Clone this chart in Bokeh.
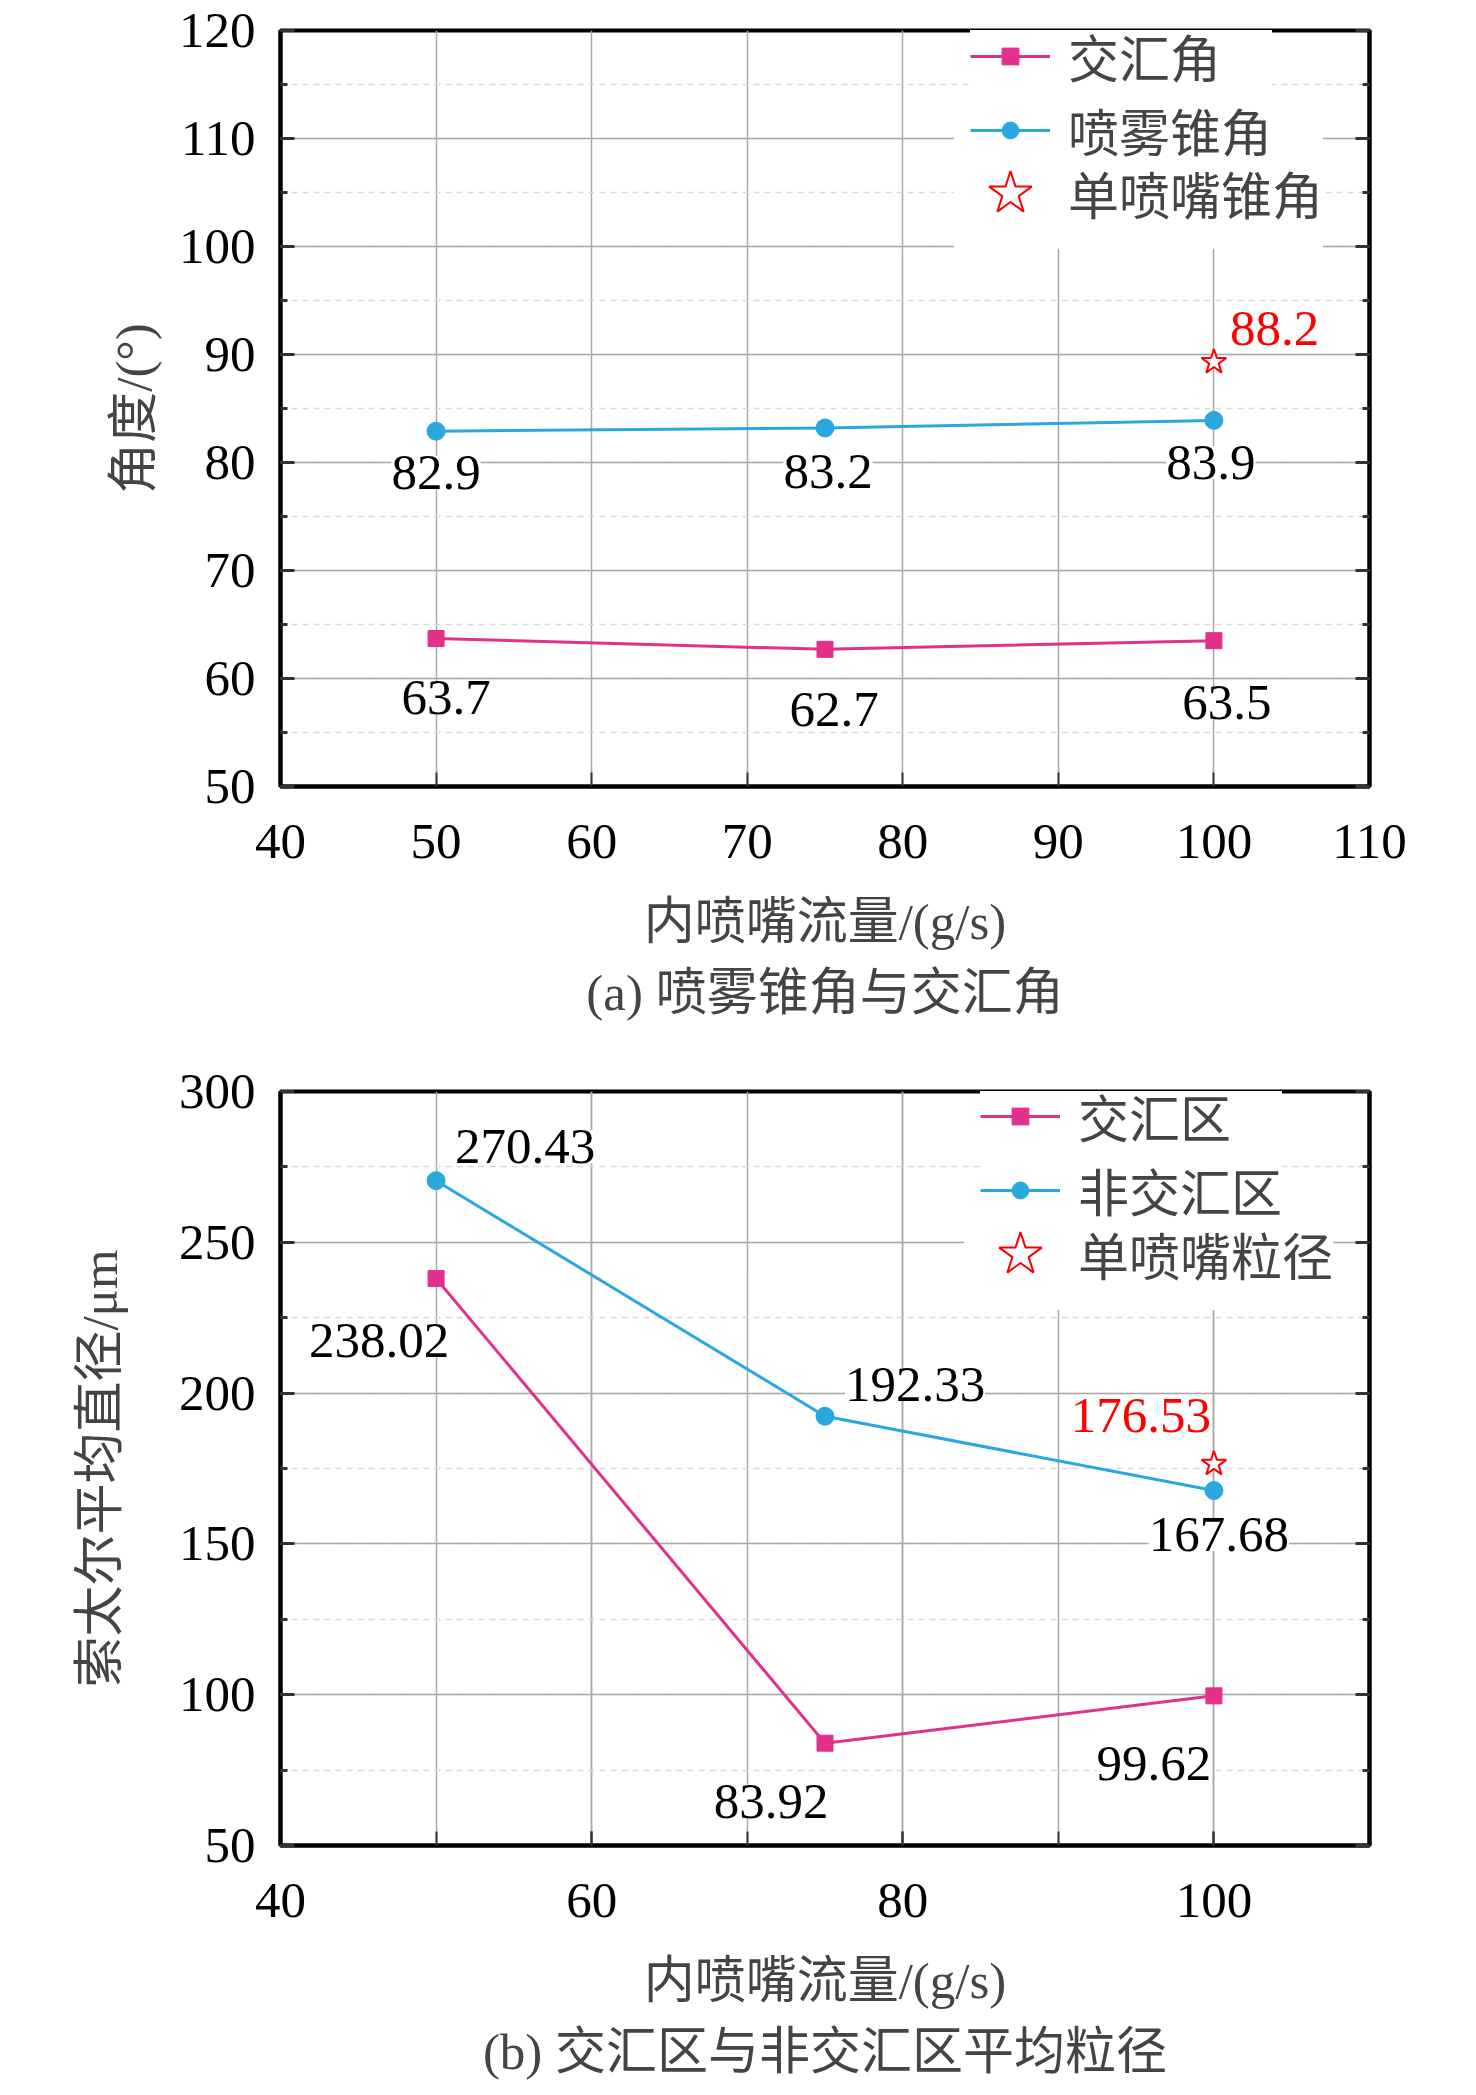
from bokeh.plotting import figure
from bokeh.layouts import column
from bokeh.models import (Range1d, SingleIntervalTicker, LinearAxis, Label,
                          Legend, LegendItem, Title, CustomJSTickFormatter)
from bokeh.embed import file_html
from bokeh.resources import INLINE

# ---- data ----
flow = [50, 75, 100]                      # 内喷嘴流量 g/s

merge_angle = [63.7, 62.7, 63.5]          # 交汇角
spray_angle = [82.9, 83.2, 83.9]          # 喷雾锥角
single_angle_x = [100]
single_angle_y = [89.3]                   # star as drawn
single_angle_text = [88.2]                # value written beside it

merge_d = [238.02, 83.92, 99.62]          # 交汇区
nonmerge_d = [270.43, 192.33, 167.68]     # 非交汇区
single_d_x = [100]
single_d = [176.53]                       # 单喷嘴粒径

PINK = "#e3308a"
BLUE = "#29a8e0"
RED = "#ff0000"
FONT = "Liberation Serif, Noto Sans CJK SC"
FS = "51px"


def make_fig(height, top, bottom, ymax, ystep, xstep, xminor_grid):
    p = figure(width=1448, height=height,
               x_range=Range1d(40, 110), y_range=Range1d(50, ymax),
               output_backend="svg", toolbar_location=None,
               min_border_left=280, min_border_right=79,
               min_border_top=top, min_border_bottom=bottom)
    p.outline_line_color = "black"
    p.outline_line_width = 4
    p.background_fill_color = "white"

    xt = SingleIntervalTicker(interval=xstep, num_minor_ticks=2)
    yt = SingleIntervalTicker(interval=ystep, num_minor_ticks=2)
    p.xaxis.ticker = xt
    p.yaxis.ticker = yt

    # right-hand axis: inward ticks only, no numbers
    right = LinearAxis(ticker=yt, formatter=CustomJSTickFormatter(code="return ''"))
    p.add_layout(right, "right")

    for ax in (p.xaxis[0], p.yaxis[0], right):
        ax.axis_line_color = "black"
        ax.axis_line_width = 4
        ax.major_tick_in = 14
        ax.major_tick_out = 0
        ax.minor_tick_in = 7
        ax.minor_tick_out = 0
        ax.major_tick_line_color = "#333333"
        ax.minor_tick_line_color = "#333333"
        ax.major_tick_line_width = 3
        ax.minor_tick_line_width = 3
        ax.major_label_text_font = FONT
        ax.major_label_text_font_size = FS
        ax.major_label_text_color = "black"
        ax.axis_label_text_font = FONT
        ax.axis_label_text_font_size = FS
        ax.axis_label_text_font_style = "normal"
    right.major_label_standoff = 0

    p.xaxis.major_label_standoff = 38
    p.yaxis[0].major_label_standoff = 25
    p.xaxis.axis_label_standoff = 33
    p.xaxis.major_tick_line_width = 2
    p.xaxis.minor_tick_line_width = 2
    p.xaxis.minor_tick_in = 14
    if not xminor_grid:
        p.xaxis.minor_tick_line_color = None

    p.xgrid.grid_line_color = "#a8a8a8"
    p.xgrid.grid_line_width = 1.5
    if xminor_grid:
        p.xgrid.minor_grid_line_color = "#a8a8a8"
        p.xgrid.minor_grid_line_width = 1.5
    p.ygrid.grid_line_color = "#a8a8a8"
    p.ygrid.grid_line_width = 1.5
    p.ygrid.minor_grid_line_color = "#d9d9d9"
    p.ygrid.minor_grid_line_width = 1.5
    p.ygrid.minor_grid_line_dash = "6 5"
    return p


def add_values(p, xs, ys, texts, offsets, color="black"):
    for x, y, t, (dx, dy) in zip(xs, ys, texts, offsets):
        p.add_layout(Label(x=x, y=y, text=t, x_offset=dx, y_offset=dy,
                           text_align="center", text_baseline="middle",
                           text_font=FONT, text_font_size=FS, text_color=color,
                           background_fill_color="white"))


def add_legend(p, items, star_item, x, y1, y2):
    common = dict(label_height=60, margin=0, padding=0, border_line_color=None,
                  background_fill_color="white", background_fill_alpha=1,
                  label_text_font=FONT, label_text_font_size=FS)
    # star row: wider/taller glyph box so the legend star comes out larger
    leg2 = Legend(items=[star_item], location=(x - 16, y2), glyph_width=112,
                  glyph_height=112, label_standoff=2, spacing=0, **common)
    leg1 = Legend(items=items, location=(x, y1), glyph_width=80,
                  glyph_height=42, label_standoff=18, spacing=-7, **common)
    p.add_layout(leg2)
    p.add_layout(leg1)


# ---------------- (a) ----------------
pa = make_fig(1040, 30, 254, 120, 10, 10, False)
pa.xaxis.axis_label = "内喷嘴流量/(g/s)"
pa.yaxis[0].axis_label = "角度/(°)"
pa.yaxis[0].axis_label_standoff = 14

la1 = pa.line(flow, merge_angle, line_color=PINK, line_width=3)
sa1 = pa.scatter(flow, merge_angle, marker="square", size=16, color=PINK)
la2 = pa.line(flow, spray_angle, line_color=BLUE, line_width=3)
sa2 = pa.scatter(flow, spray_angle, marker="circle", size=18, color=BLUE)
sa3 = pa.scatter(single_angle_x, single_angle_y, marker="star", size=26,
                 fill_color="white", line_color=RED, line_width=2)

add_values(pa, flow, spray_angle, [f"{v:.1f}" for v in spray_angle],
           [(0, -41), (3, -44), (-3, -42)])
add_values(pa, flow, merge_angle, [f"{v:.1f}" for v in merge_angle],
           [(10, -59), (9, -60), (13, -62)])
pa.add_layout(Label(x=single_angle_x[0], y=single_angle_y[0],
                    text=f"{single_angle_text[0]:.1f}", x_offset=16, y_offset=34,
                    text_align="left", text_baseline="middle", text_font=FONT,
                    text_font_size=FS, text_color=RED))

add_legend(pa,
           [LegendItem(label="交汇角", renderers=[la1, sa1]),
            LegendItem(label="喷雾锥角", renderers=[la2, sa2])],
           LegendItem(label="单喷嘴锥角", renderers=[sa3]),
           690, 619, 537)
pa.add_layout(Title(text="(a) 喷雾锥角与交汇角", align="center",
                    text_font=FONT, text_font_size=FS,
                    text_font_style="normal", standoff=21), "below")

# ---------------- (b) ----------------
pb = make_fig(1050, 51, 242, 300, 50, 20, True)
pb.xaxis.axis_label = "内喷嘴流量/(g/s)"
pb.yaxis[0].axis_label = "索太尔平均直径/μm"
pb.yaxis[0].axis_label_standoff = 48

lb1 = pb.line(flow, merge_d, line_color=PINK, line_width=3)
sb1 = pb.scatter(flow, merge_d, marker="square", size=16, color=PINK)
lb2 = pb.line(flow, nonmerge_d, line_color=BLUE, line_width=3)
sb2 = pb.scatter(flow, nonmerge_d, marker="circle", size=18, color=BLUE)
sb3 = pb.scatter(single_d_x, single_d, marker="star", size=26,
                 fill_color="white", line_color=RED, line_width=2)

add_values(pb, flow, nonmerge_d, [f"{v:.2f}" for v in nonmerge_d],
           [(89, 34), (90, 32), (5, -44)])
add_values(pb, flow, merge_d, [f"{v:.2f}" for v in merge_d],
           [(-57, -62), (-54, -58), (-60, -68)])
add_values(pb, single_d_x, single_d, [f"{v:.2f}" for v in single_d],
           [(-73, 48)], color=RED)

add_legend(pb,
           [LegendItem(label="交汇区", renderers=[lb1, sb1]),
            LegendItem(label="非交汇区", renderers=[lb2, sb2])],
           LegendItem(label="单喷嘴粒径", renderers=[sb3]),
           700, 618, 535)
pb.add_layout(Title(text="(b) 交汇区与非交汇区平均粒径", align="center",
                    text_font=FONT, text_font_size=FS,
                    text_font_style="normal", standoff=21), "below")

layout = column(pa, pb)
open("out.html", "w").write(file_html(layout, INLINE))
